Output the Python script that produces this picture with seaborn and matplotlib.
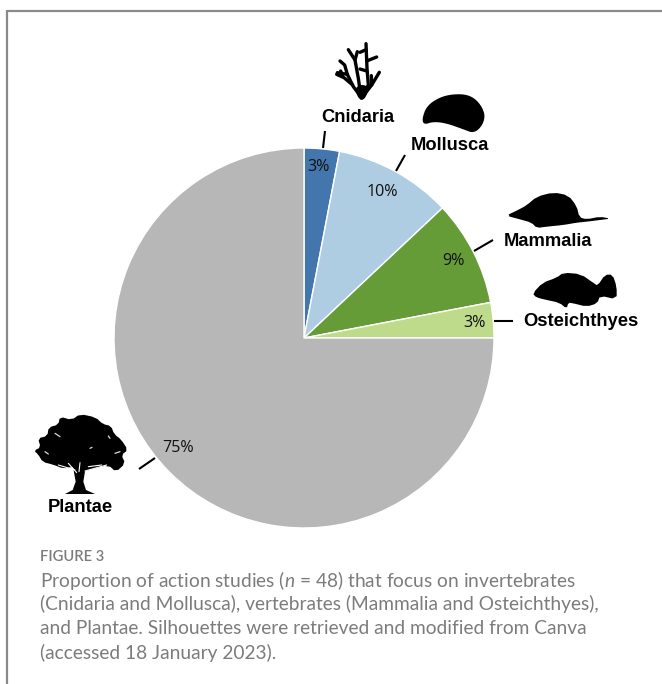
import matplotlib
matplotlib.use("Agg")
import matplotlib.pyplot as plt
import seaborn as sns
from matplotlib.patches import Polygon, Circle
import numpy as np

# Share of action studies per taxon, clockwise from twelve o'clock
taxa = ["Cnidaria", "Mollusca", "Mammalia", "Osteichthyes", "Plantae"]
shares = [3, 10, 9, 3, 75]
slice_colors = ["#4476AE", "#AECDE2", "#659C38", "#BDDB8A", "#B7B7B7"]

figure_tag = "FIGURE 3"
caption_lines = [
    r"Proportion of action studies ($\mathit{n}$ = 48) that focus on invertebrates",
    "(Cnidaria and Mollusca), vertebrates (Mammalia and Osteichthyes),",
    "and Plantae. Silhouettes were retrieved and modified from Canva",
    "(accessed 18 January 2023).",
]

sns.set_theme(style="white")
plt.rcParams["mathtext.fontset"] = "custom"
plt.rcParams["mathtext.it"] = "Lato:italic"
plt.rcParams["mathtext.rm"] = "Lato"

W, H = 662, 684
fig = plt.figure(figsize=(W / 100, H / 100), dpi=100, facecolor="white")

# Pie in its own square axes
ax = fig.add_axes([114 / W, (H - 528) / H, 380 / W, 380 / H])
ax.pie(shares, colors=slice_colors, startangle=90, counterclock=False, radius=1,
       wedgeprops=dict(edgecolor="white", linewidth=1.0, clip_on=False))
ax.set_xlim(-1, 1)
ax.set_ylim(-1, 1)
ax.set_aspect("equal")
ax.axis("off")

# Pixel-space overlay for annotations, frame and silhouettes
ov = fig.add_axes([0, 0, 1, 1], facecolor="none")
ov.set_xlim(0, W)
ov.set_ylim(H, 0)
ov.axis("off")

# Page frame along the top and left edges
ov.plot([6.5, W], [10.5, 10.5], color="#8A8A8A", lw=1.6, solid_capstyle="butt")
ov.plot([6.5, 6.5], [10, H], color="#8A8A8A", lw=1.6, solid_capstyle="butt")

label_font = dict(family="Liberation Sans", weight="bold", fontsize=13.2,
                  color="black", ha="center", va="center")
label_xy = [(358, 117), (450, 145), (548, 241), (581, 321), (80, 508)]
for name, (x, y) in zip(taxa, label_xy):
    ov.text(x, y, name, **label_font)

pct_xy = [(319, 167), (382, 192), (453, 261), (475, 323), (178, 448)]
for v, (x, y) in zip(shares, pct_xy):
    ov.text(x, y, f"{v}%", family="Open Sans", fontsize=11.6, color="#111111",
            ha="center", va="center")

leaders = [((325, 131), (323, 148)), ((405, 155), (396, 171)),
           ((493, 240), (474, 251)), ((494, 321), (513, 321)),
           ((155, 458), (139, 469))]
for (x0, y0), (x1, y1) in leaders:
    ov.plot([x0, x1], [y0, y1], color="black", lw=1.5, solid_capstyle="butt")


def chaikin(pts, rounds=2):
    """Corner-cutting smoothing of a closed outline."""
    p = np.asarray(pts, float)
    for _ in range(rounds):
        q = np.roll(p, -1, axis=0)
        p = np.column_stack([0.75 * p + 0.25 * q, 0.25 * p + 0.75 * q]).reshape(-1, 2)
    return p


def upper_right(pts):
    return [(300 + x / 3, 20 + y / 3) for x, y in pts]


def tree_space(pts):
    return [(30 + x / 3, 410 + y / 3) for x, y in pts]


def coral_space(pts):
    return [(320 + x / 3, 35 + y / 3) for x, y in pts]


def blob(pts, rounds=2):
    ov.add_patch(Polygon(chaikin(pts, rounds), closed=True, fc="black", ec="none"))


# Mollusc shell
blob(upper_right([(366, 297), (380, 258), (418, 232), (460, 222), (505, 224), (536, 245),
                  (556, 282), (548, 316), (522, 340), (490, 328), (440, 310), (400, 305),
                  (372, 314)]))

# Small mammal, with a thin tail
blob(upper_right([(618, 587), (650, 572), (680, 556), (710, 530), (760, 517), (805, 526),
                  (830, 558), (838, 592), (860, 598), (900, 590), (932, 596), (900, 600),
                  (860, 605), (830, 608), (790, 615), (740, 620), (710, 624), (695, 608),
                  (660, 598)]), rounds=1)

# Fish
blob(upper_right([(698, 820), (728, 788), (770, 773), (790, 758), (842, 762), (882, 790),
                  (893, 797), (915, 764), (938, 764), (950, 800), (950, 838), (900, 827),
                  (892, 850), (860, 860), (820, 850), (805, 848), (800, 866), (778, 848),
                  (740, 840), (708, 832)]), rounds=1)

# Branching coral, drawn as strokes
coral_strokes = [
    [(125, 188), (100, 155), (82, 118), (52, 113)],
    [(82, 118), (74, 90), (60, 78)],
    [(98, 150), (72, 128), (50, 118)],
    [(62, 108), (68, 122)],
    [(122, 180), (115, 130), (105, 75), (85, 44)],
    [(105, 75), (112, 50)],
    [(125, 188), (145, 150), (141, 100), (138, 26)],
    [(140, 78), (170, 66)],
    [(140, 108), (120, 102)],
    [(120, 52), (138, 44)],
    [(128, 185), (155, 150), (178, 112)],
    [(155, 150), (154, 122)],
]
for stroke in coral_strokes:
    xs, ys = zip(*coral_space(stroke))
    ov.plot(xs, ys, color="black", lw=2.4, solid_capstyle="round", solid_joinstyle="round")
blob(coral_space([(106, 160), (122, 148), (147, 155), (138, 187), (124, 197), (112, 184)]), rounds=1)

# Tree: scalloped canopy, flared trunk, ground shadow and pale gaps between boughs
canopy = [(12, 122), (32, 112), (24, 85), (52, 78), (56, 52), (85, 44), (90, 20), (125, 30),
          (150, 12), (197, 22), (218, 42), (243, 48), (253, 73), (273, 88), (294, 120),
          (274, 135), (286, 160), (258, 186), (235, 165), (190, 176), (160, 186), (130, 170),
          (100, 176), (70, 164), (38, 156), (25, 134)]
blob(tree_space(canopy), rounds=1)
ov.add_patch(Polygon(tree_space([(128, 165), (168, 165), (160, 215), (168, 240), (195, 252),
                                 (105, 252), (128, 240), (137, 215)]),
                     closed=True, fc="black", ec="none"))
for stroke in [[(85, 165), (135, 180)], [(115, 160), (140, 188)], [(150, 158), (147, 185)],
               [(165, 183), (230, 165)], [(175, 170), (215, 165)]]:
    xs, ys = zip(*tree_space(stroke))
    ov.plot(xs, ys, color="white", lw=0.8)
for stroke in [[(75, 70), (90, 80)], [(180, 115), (186, 112)], [(255, 130), (270, 125)],
               [(45, 125), (55, 132)], [(235, 78), (240, 85)]]:
    xs, ys = zip(*tree_space(stroke))
    ov.plot(xs, ys, color="#DDDDDD", lw=0.9)

# Caption block
caption_color = "#7C7C7C"
ov.text(40, 557, figure_tag, family="Lato", weight="semibold", fontsize=10.6,
        color=caption_color, ha="left", va="center")
for i, line in enumerate(caption_lines):
    ov.text(40, 580 + i * 24.3, line, family="Lato", fontsize=13.8, color=caption_color,
            ha="left", va="center")

fig.savefig("out.png", dpi=100)
